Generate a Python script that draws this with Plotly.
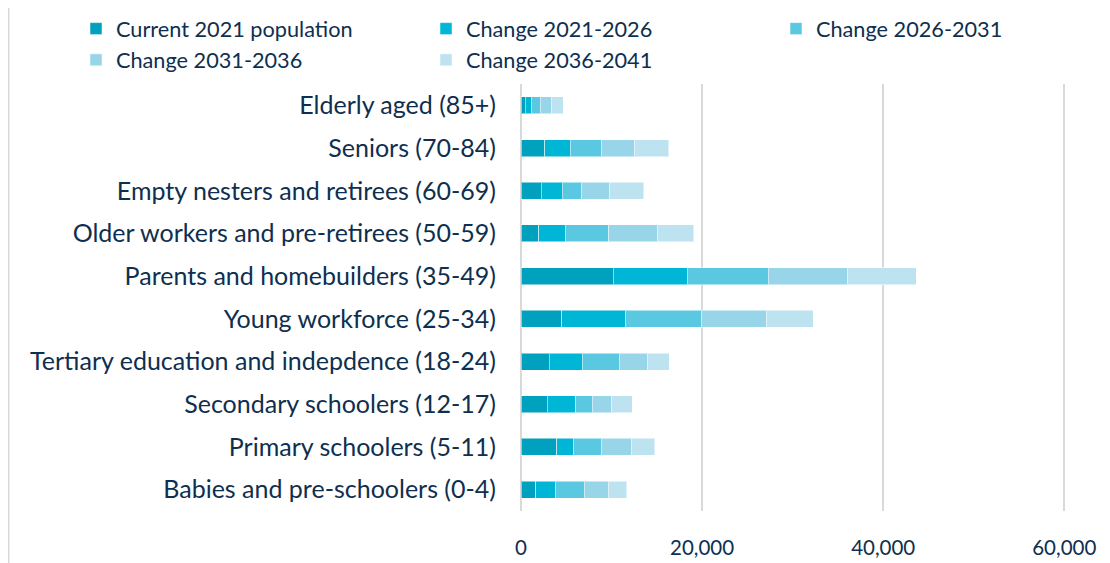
import plotly.graph_objects as go

categories = [
    "Elderly aged (85+)",
    "Seniors (70-84)",
    "Empty nesters and retirees (60-69)",
    "Older workers and pre-retirees (50-59)",
    "Parents and homebuilders (35-49)",
    "Young workforce (25-34)",
    "Tertiary education and indepdence (18-24)",
    "Secondary schoolers (12-17)",
    "Primary schoolers (5-11)",
    "Babies and pre-schoolers (0-4)",
]
current_2021 = [480, 2615, 2250, 1950, 10165, 4490, 3130, 2910, 3940, 1620]
change_2021_2026 = [660, 2840, 2320, 2950, 8210, 7035, 3610, 3130, 1840, 2170]
change_2026_2031 = [1000, 3425, 2100, 4790, 8910, 8400, 4125, 1840, 3095, 3205]
change_2031_2036 = [1220, 3650, 3090, 5380, 8770, 7180, 3095, 2100, 3315, 2650]
change_2036_2041 = [1290, 3760, 3790, 4010, 7620, 5160, 2430, 2320, 2580, 2060]

series_names = ["Current 2021 population", "Change 2021-2026", "Change 2026-2031",
                "Change 2031-2036", "Change 2036-2041"]
series_values = [current_2021, change_2021_2026, change_2026_2031, change_2031_2036, change_2036_2041]
colors = ["#00A1BE", "#00B6D7", "#5BC8E2", "#98D5E9", "#BDE2F0"]

text_color = "#0E2F4F"
font_family = "Lato, 'Noto Sans', sans-serif"

# The page has an 8px body margin, so the figure is sized to fill the rest of the window.
W, H = 1102, 555
L, R, T, B = 513, 43, 76, 52
pw, ph = W - L - R, H - T - B

fig = go.Figure()
for name, vals, col in zip(series_names, series_values, colors):
    fig.add_trace(go.Bar(
        y=categories, x=vals, name=name, orientation="h",
        marker=dict(color=col, line=dict(color="rgba(255,255,255,0.5)", width=1)),
    ))

# outer frame of the chart
fig.add_shape(type="rect", xref="paper", yref="paper",
              x0=(0.75 - L) / pw, x1=1.2, y0=-0.3, y1=(H - B + 1) / ph,
              line=dict(color="#D9D9D9", width=1.5), fillcolor="rgba(0,0,0,0)", layer="below")

fig.update_layout(
    barmode="stack",
    bargap=0.6,
    width=W, height=H,
    margin=dict(l=L, r=R, t=T, b=B, autoexpand=False),
    paper_bgcolor="white", plot_bgcolor="white",
    font=dict(family=font_family, size=20, color=text_color),
    legend=dict(
        orientation="h",
        x=(68 - L) / pw, y=(H - B) / ph,
        xanchor="left", yanchor="top",
        entrywidth=305, entrywidthmode="pixels",
        font=dict(size=21.7, color=text_color),
        traceorder="normal", itemwidth=30, tracegroupgap=0,
    ),
    xaxis=dict(
        range=[0, 60300], tickvals=[0, 20000, 40000, 60000],
        ticktext=["0", "20,000", "40,000", "60,000"],
        showgrid=True, gridcolor="#D9D9D9", gridwidth=1.5,
        zeroline=True, zerolinecolor="#D9D9D9", zerolinewidth=1.5,
        ticklabelstandoff=22, showline=False, automargin=False,
        tickfont=dict(size=20.5, color=text_color),
    ),
    yaxis=dict(
        categoryorder="array", categoryarray=categories[::-1],
        showgrid=False, ticklabelstandoff=24, automargin=False,
        tickfont=dict(size=25, color=text_color),
    ),
)

fig.write_html("out.html")
